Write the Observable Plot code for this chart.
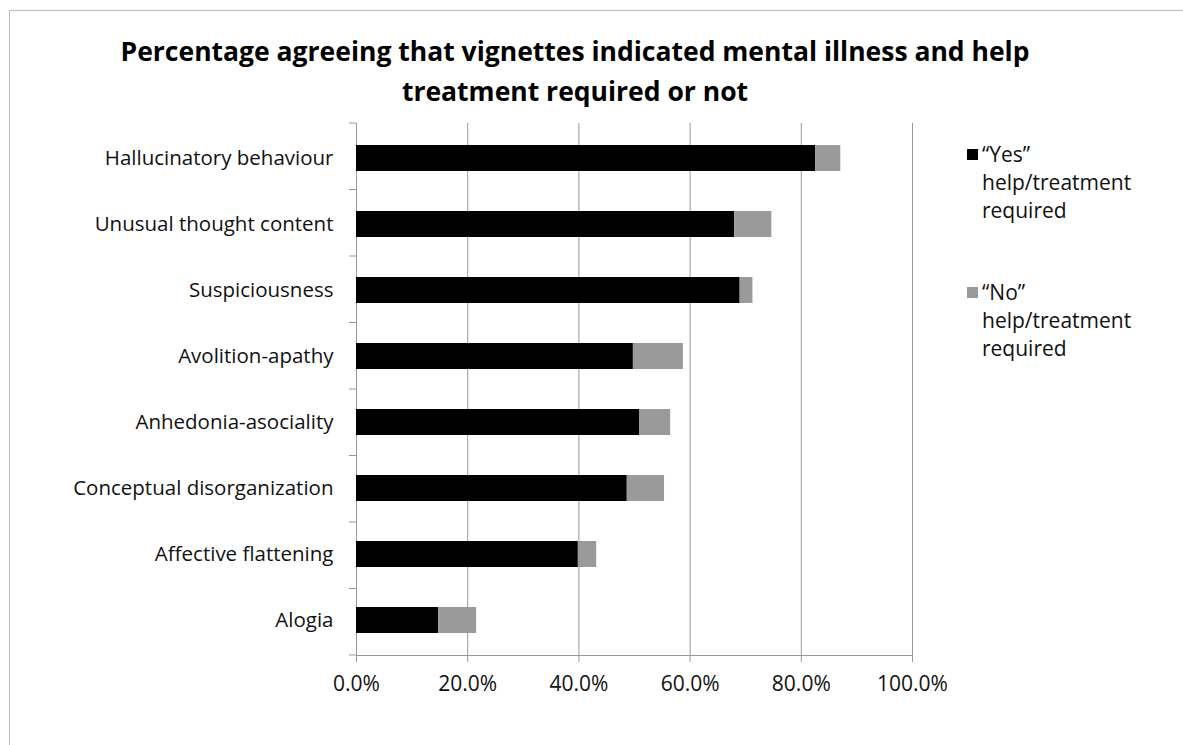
<!DOCTYPE html>
<html>
<head>
<meta charset="utf-8">
<script src="https://cdn.jsdelivr.net/npm/d3@7"></script>
<script src="https://cdn.jsdelivr.net/npm/@observablehq/plot@0.6"></script>
<style>
  html, body { margin: 0; padding: 0; background: #fff; }
  body { width: 1183px; height: 745px; position: relative; overflow: hidden; font-family: "Open Sans", Lato, sans-serif; }
  #frame { position: absolute; left: 9px; top: 10px; width: 1200px; height: 800px; border-left: 1px solid #bbb; border-top: 1px solid #bbb; }
  #chart { position: absolute; left: 0; top: 0; }
  #title { position: absolute; left: 0; top: 31px; width: 1150px; text-align: center; font-weight: bold; font-size: 26.5px; line-height: 40px; color: #000; }
  .leg { position: absolute; left: 967px; font-size: 21px; line-height: 28px; color: #111; }
  .sw { position: absolute; left: 0; top: 9px; width: 11px; height: 11px; }
  .lt { margin-left: 15px; }
</style>
</head>
<body>
<div id="frame"></div>
<div id="chart"></div>
<div id="title">Percentage agreeing that vignettes indicated mental illness and help<br>treatment required or not</div>
<div class="leg" style="top:140px"><div class="sw" style="background:#000"></div><div class="lt">“Yes”<br>help/treatment<br>required</div></div>
<div class="leg" style="top:278px"><div class="sw" style="background:#9a9a9a"></div><div class="lt">“No”<br>help/treatment<br>required</div></div>
<script>
const categories = [
  "Hallucinatory behaviour",
  "Unusual thought content",
  "Suspiciousness",
  "Avolition-apathy",
  "Anhedonia-asociality",
  "Conceptual disorganization",
  "Affective flattening",
  "Alogia"
];
const yesValues = [82.6, 68.0, 69.0, 49.8, 50.9, 48.7, 39.9, 14.8];
const noValues  = [4.5, 6.7, 2.3, 9.0, 5.6, 6.7, 3.3, 6.8];
const xTicks = [0, 20, 40, 60, 80, 100];
const seriesNames = ["Yes", "No"];

const rows = [];
categories.forEach((c, i) => rows.push({cat: c, type: "Yes", value: yesValues[i]}));
categories.forEach((c, i) => rows.push({cat: c, type: "No", value: noValues[i]}));

// band boundary ticks on the y axis (Excel-style)
function bandTicks(index, scales, values, dims) {
  const g = document.createElementNS("http://www.w3.org/2000/svg", "g");
  const top = dims.marginTop, bottom = dims.height - dims.marginBottom;
  const n = categories.length;
  const step = (bottom - top) / n;
  const x0 = scales.x(0);
  for (let k = 0; k <= n; k++) {
    const l = document.createElementNS("http://www.w3.org/2000/svg", "line");
    const y = top + k * step;
    l.setAttribute("x1", x0 - 7); l.setAttribute("x2", x0);
    l.setAttribute("y1", y); l.setAttribute("y2", y);
    l.setAttribute("stroke", "#999");
    g.appendChild(l);
  }
  return g;
}

const plot = Plot.plot({
  width: 1183,
  height: 745,
  marginLeft: 356,
  marginRight: 271,
  marginTop: 123,
  marginBottom: 90,
  style: {fontFamily: "'Open Sans', Lato, sans-serif", background: "transparent"},
  x: {domain: [0, 100], ticks: xTicks},
  y: {domain: categories, paddingInner: 0.6, paddingOuter: 0.3},
  color: {domain: seriesNames, range: ["#000000", "#9a9a9a"]},
  marks: [
    Plot.gridX(xTicks.slice(1), {stroke: "#999", strokeOpacity: 1}),
    Plot.ruleX([0], {stroke: "#999"}),
    Plot.frame({anchor: "bottom", stroke: "#999"}),
    bandTicks,
    Plot.barX(rows, Plot.stackX({y: "cat", x: "value", fill: "type", order: seriesNames})),
    Plot.axisX(xTicks, {tickSize: 7, stroke: "#999", tickPadding: 14, fontSize: 21, fill: "#111", tickFormat: d => d.toFixed(1) + "%", label: null}),
    Plot.axisY({tickSize: 0, tickPadding: 23, fontSize: 20.5, fill: "#111", label: null})
  ]
});
document.getElementById("chart").appendChild(plot);
</script>
</body>
</html>
